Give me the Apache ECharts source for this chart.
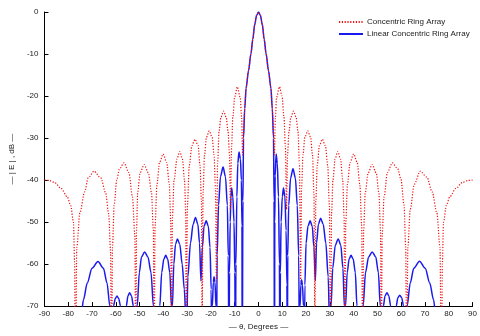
<!DOCTYPE html>
<html>
<head>
<meta charset="utf-8">
<script src="https://cdn.jsdelivr.net/npm/echarts@6/dist/echarts.min.js"></script>
<style>
html,body{margin:0;padding:0;background:#fff;}
#chart{width:480px;height:336px;}
</style>
</head>
<body>
<div id="chart"></div>
<script>
// Series names
const seriesNames = ['Concentric Ring Array', 'Linear Concentric Ring Array'];

// Concentric Ring Array: [angle (deg), |E| (dB)]
const concentricRingArray = [
  [-90,-40],[-88,-40.1],[-85.7,-40.6],[-83,-42],[-80.4,-44],[-79,-46],[-77.8,-50],[-77.3,-60],[-77,-90],
  [-76.4,-56],[-75.1,-47.8],[-73.1,-42.8],[-71.6,-39.5],[-69.2,-37.9],[-66.3,-39.5],[-64.3,-43],[-63,-48],[-62.2,-57],[-61.8,-90],
  [-61.4,-56],[-60.7,-46],[-59.6,-40],[-58.5,-37.4],[-56.6,-35.9],[-54.5,-38.2],[-53,-44],[-52,-53],[-51.6,-90],
  [-51.3,-52],[-50.8,-43],[-49.8,-38.3],[-48.1,-36.3],[-46.3,-38.3],[-45,-43],[-44.2,-52],[-43.9,-90],
  [-43.5,-51],[-42.7,-41],[-41.6,-35.8],[-40.1,-33.8],[-38.6,-35.8],[-37.5,-41],[-36.9,-50],[-36.6,-90],
  [-36.2,-49],[-35.5,-40],[-34.3,-35],[-33.1,-33.2],[-32,-35],[-31.1,-40],[-30.6,-48],[-30.4,-90],
  [-29.9,-46],[-29.1,-36.5],[-28,-31.8],[-26.7,-30.3],[-25.4,-31.8],[-24.6,-36.5],[-24,-45],[-23.7,-75],
  [-23.3,-43],[-22.7,-34],[-21.9,-29.8],[-20.7,-28.3],[-19.5,-29.8],[-18.7,-34],[-18.1,-42],[-17.7,-64],
  [-17.2,-36],[-16.6,-28.5],[-15.8,-25],[-14.7,-23.6],[-13.6,-25],[-12.8,-28.5],[-12.2,-34],[-11.8,-47],
  [-11.3,-32],[-10.8,-25],[-10,-20.2],[-8.9,-17.8],[-7.7,-20.3],[-7.1,-25],[-6.7,-34],
  [-6.3,-29],[-5.8,-23],[-5.2,-18],[-4.2,-14],[-3.2,-10],[-2.4,-6.5],[-1.6,-3],[-0.8,-0.8],[0,0],
  [0.8,-0.8],[1.6,-3],[2.4,-6.5],[3.2,-10],[4.2,-14],[5.2,-18],[5.8,-23],[6.3,-29],[6.7,-34],
  [7.1,-25],[7.6,-20.3],[8.8,-17.8],[9.9,-20],[10.7,-25],[11.3,-32],[11.8,-47],
  [12.2,-34],[12.8,-28.5],[13.6,-25],[14.7,-23.6],[15.8,-25],[16.6,-28.5],[17.2,-36],[17.7,-64],
  [18.1,-42],[18.7,-34],[19.5,-29.8],[20.7,-28.3],[21.9,-29.8],[22.7,-34],[23.3,-43],[23.7,-75],
  [24.1,-45],[24.7,-36.5],[25.6,-31.8],[26.8,-30.3],[28.1,-31.8],[29.1,-36.5],[29.8,-46],[30.3,-90],
  [30.7,-48],[31.3,-40],[32.2,-35],[33.3,-33.2],[34.5,-35],[35.4,-40],[36,-49],[36.3,-90],
  [36.7,-50],[37.4,-41],[38.5,-35.8],[40,-33.8],[41.5,-35.8],[42.6,-41],[43.4,-51],[43.8,-90],
  [44.2,-52],[44.9,-43],[46.1,-38.3],[47.8,-36.3],[49.5,-38.3],[50.6,-43],[51.3,-52],[51.6,-90],
  [52,-53],[52.8,-44],[54.2,-38.2],[56.3,-35.9],[58.5,-37.3],[59.9,-39.8],[61.2,-46],[61.9,-56],[62.3,-90],
  [62.8,-56],[63.8,-47],[65.5,-41],[68,-37.9],[70.8,-39.3],[73,-42.8],[75,-47.8],[76.3,-56],[76.9,-90],
  [77.3,-60],[77.8,-50],[79,-46],[80.4,-44],[83,-42],[85.7,-40.6],[88,-40.1],[90,-40]
];

// Linear Concentric Ring Array: [angle (deg), |E| (dB)]
const linearConcentricRingArray = [
  [-76,-95],
  [-74.5,-72],[-73.6,-68.5],[-72,-64.5],[-70,-61],[-67.5,-59.4],[-65.2,-61],[-63.7,-64.5],[-62.5,-70],[-61.7,-90],
  [-61,-70],[-60.2,-68.2],[-59.5,-67.6],[-58.8,-68.2],[-58,-70],[-57,-90],
  [-55.6,-70],[-54.9,-67.6],[-54.2,-66.8],[-53.4,-67.6],[-52.6,-70],[-51.8,-90],
  [-51,-70],[-50.1,-62],[-49.2,-58.3],[-47.9,-57.1],[-46.5,-58.3],[-45.2,-62],[-44.2,-70],[-43.6,-90],[-42.6,-95],
  [-41.5,-70],[-40.7,-62],[-39.8,-58.8],[-39,-57.9],[-38.2,-58.8],[-37.3,-62],[-36.6,-70],[-36.4,-90],
  [-36.2,-70],[-35.6,-60],[-34.9,-55.3],[-34.1,-54],[-33.1,-55.3],[-32.1,-60],[-31.2,-66],[-30.6,-72],[-30.4,-90],
  [-30.2,-75],[-29.7,-63],[-28.6,-55],[-27.5,-50.5],[-26.5,-48.9],[-25.5,-50.5],[-24.8,-55],[-24.2,-64],
  [-23.6,-56],[-22.9,-51],[-22,-49.7],[-21.1,-51],[-20.4,-56],[-19.9,-66],[-19.6,-90],
  [-19.4,-70],[-19,-64.3],[-18.7,-63],[-18.3,-64.3],[-17.9,-70],[-17.7,-90],
  [-17.4,-58],[-16.8,-46],[-16,-39.2],[-14.9,-36.9],[-13.9,-39.2],[-13.1,-46],[-12.7,-58],[-12.4,-90],
  [-12.2,-62],[-11.9,-50],[-11.6,-44],[-11.3,-41.9],[-10.8,-44],[-10.3,-50],[-9.95,-62],[-9.7,-90],
  [-9.5,-60],[-9.1,-44],[-8.7,-36],[-8.2,-33.3],[-7.6,-35],[-7.2,-40],[-6.95,-51],[-6.85,-90],
  [-6.55,-45],[-6.3,-30],[-5.8,-23],[-5.2,-18],[-4.2,-14],[-3.2,-10],[-2.4,-6.5],[-1.6,-3],[-0.8,-0.8],[0,0],
  [0.8,-0.8],[1.6,-3],[2.4,-6.5],[3.2,-10],[4.2,-14],[5.2,-18],[5.8,-23],[6.3,-30],[6.55,-45],[6.7,-90],
  [6.85,-50],[7,-39],[7.4,-33.8],[7.9,-36],[8.4,-44],[8.8,-60],[9,-90],
  [9.2,-62],[9.5,-50],[10,-44],[10.5,-41.9],[11.1,-44],[11.6,-52],[11.95,-65],[12.1,-90],
  [12.3,-58],[12.7,-46],[13.5,-39.5],[14.5,-37.3],[15.5,-39.5],[16.3,-46],[16.9,-58],[17.3,-90],
  [17.5,-70],[17.8,-65],[18.1,-63.7],[18.5,-65],[18.9,-70],[19.2,-90],
  [19.5,-65],[20,-55],[20.8,-51],[21.7,-49.7],[22.6,-51],[23.3,-56],[23.9,-64],
  [24.4,-55],[25.2,-50.5],[26.1,-49.1],[27.2,-50.5],[28.3,-55],[29.3,-63],[29.9,-75],[30.1,-90],
  [30.5,-70],[31.2,-61],[32.3,-55.5],[33.5,-54],[34.6,-55.5],[35.5,-61],[36.1,-70],[36.3,-90],
  [36.6,-70],[37.3,-62],[38.1,-58.8],[38.9,-57.9],[39.8,-58.8],[40.7,-62],[41.4,-70],[41.7,-90],[42.9,-95],
  [44,-70],[45,-62],[46.3,-58.3],[47.8,-57.1],[49.3,-58.3],[50.4,-62],[51.2,-70],[51.6,-90],
  [52.5,-70],[53.2,-67.6],[54,-66.8],[54.8,-67.6],[55.6,-70],[56.7,-90],
  [57.9,-70],[58.6,-68],[59.4,-67.4],[60.2,-68],[61,-70],[61.7,-90],
  [62.5,-70],[63.8,-64.5],[65.3,-61],[67.7,-59.3],[70.1,-61],[72,-64.5],[73.6,-68.5],[74.5,-72],[75.5,-90],[76,-95]
];

// Axis ranges / ticks
const xMin = -90, xMax = 90, xStep = 10;
const yMin = -70, yMax = 0, yStep = 10;
const xAxisTitle = '— θ, Degrees —';
const yAxisTitle = '— | E | , dB —';

const chart = echarts.init(document.getElementById('chart'), null, {renderer: 'canvas'});
const font = 'Liberation Sans, Arial, sans-serif';
chart.setOption({
  animation: false,
  backgroundColor: '#ffffff',
  grid: {left: 29, right: 3, top: 12, bottom: 24, containLabel: false},
  legend: {
    orient: 'vertical',
    left: 338,
    top: 18,
    padding: 0,
    itemWidth: 24,
    itemHeight: 8,
    itemGap: 4,
    itemStyle: {opacity: 0},
    textStyle: {fontSize: 8, color: '#222', fontFamily: font, padding: [0,0,0,-1]},
    data: seriesNames
  },
  xAxis: {
    type: 'value',
    min: xMin, max: xMax, interval: xStep,
    name: xAxisTitle,
    nameLocation: 'middle',
    nameGap: 15,
    nameTextStyle: {fontSize: 8, color: '#222', fontFamily: font},
    axisLine: {onZero: false, lineStyle: {color: '#000', width: 1}},
    axisTick: {inside: true, length: 4, lineStyle: {color: '#000'}},
    axisLabel: {fontSize: 8, color: '#222', fontFamily: font, margin: 4},
    splitLine: {show: false}
  },
  yAxis: {
    type: 'value',
    min: yMin, max: yMax, interval: yStep,
    name: yAxisTitle,
    nameLocation: 'middle',
    nameGap: 21,
    nameRotate: 90,
    nameTextStyle: {fontSize: 8, color: '#222', fontFamily: font},
    axisLine: {show: true, onZero: false, lineStyle: {color: '#000', width: 1}},
    axisTick: {show: true, inside: true, length: 4, lineStyle: {color: '#000'}},
    axisLabel: {fontSize: 8, color: '#222', fontFamily: font, margin: 6},
    splitLine: {show: false}
  },
  series: [
    {
      name: seriesNames[0],
      type: 'line',
      data: concentricRingArray,
      showSymbol: false,
      symbol: 'none',
      smooth: 0.3,
      smoothMonotone: 'x',
      clip: true,
      z: 3,
      lineStyle: {color: '#ee1111', width: 1.2, type: [1.2, 1.6]},
      itemStyle: {color: '#ee1111'}
    },
    {
      name: seriesNames[1],
      type: 'line',
      data: linearConcentricRingArray,
      showSymbol: false,
      symbol: 'none',
      smooth: 0.3,
      smoothMonotone: 'x',
      clip: true,
      z: 2,
      lineStyle: {color: '#1a1aee', width: 1.5, type: 'solid'},
      itemStyle: {color: '#1a1aee'}
    }
  ]
});
</script>
</body>
</html>
